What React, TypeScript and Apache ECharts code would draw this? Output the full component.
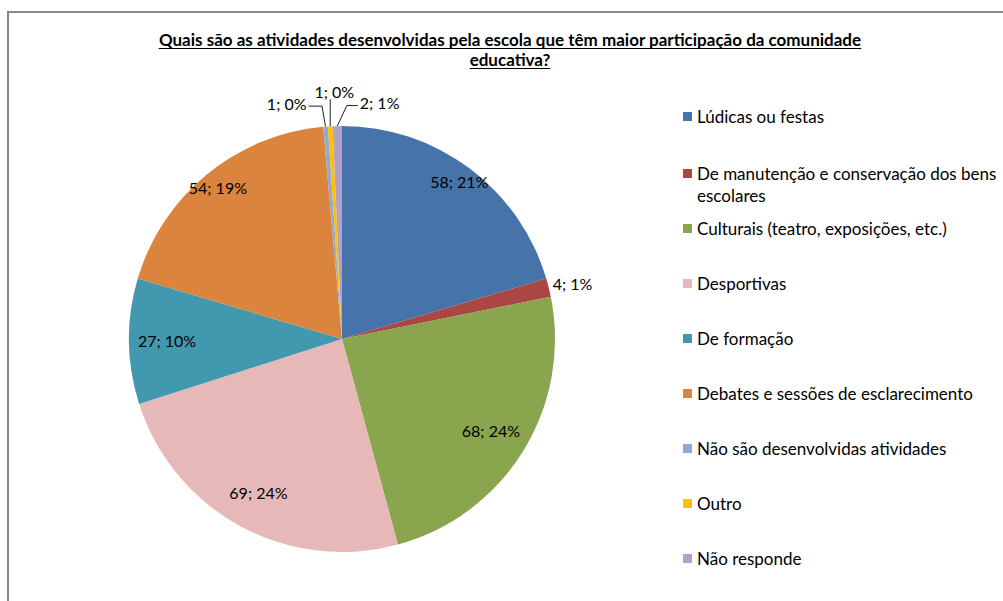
import React, { useEffect, useRef } from 'react';
import * as echarts from 'echarts';

const categories = [
  'Lúdicas ou festas',
  'De manutenção e conservação dos bens escolares',
  'Culturais (teatro, exposições, etc.)',
  'Desportivas',
  'De formação',
  'Debates e sessões de esclarecimento',
  'Não são desenvolvidas atividades',
  'Outro',
  'Não responde',
];
const values = [58, 4, 68, 69, 27, 54, 1, 1, 2];
const percentLabels = ['21%', '1%', '24%', '24%', '10%', '19%', '0%', '0%', '1%'];
const colors = ['#4674AA', '#AA4643', '#89A54E', '#E6B9B8', '#4298AF', '#DB843D', '#93A9CF', '#FFC000', '#B3A2C7'];
const titleLines = [
  'Quais são as atividades desenvolvidas pela escola que têm maior participação da comunidade',
  'educativa?',
];

// which labels go where (indices)
const outsideIdx = [1, 6, 7, 8];
const ringOuterIdx = [0, 5];
const ringInnerIdx = [2, 3, 4];

const FONT = 'Lato';
const CENTER = [342, 339];
const R = 213;
const LABEL_SIZE = 16;
const LEGEND_SIZE = 17;

const labelText = (p: any) => `${values[p.dataIndex]}; ${percentLabels[p.dataIndex]}`;

function smallLabelLayout(p: any) {
  const pts = p.labelLinePoints;
  if (!pts || !pts[0]) return {};
  const [x0, y0] = pts[0];
  const i = p.dataIndex;
  if (i === 1) {
    return {
      x: x0 + 4, y: y0 - 4.5, align: 'left', verticalAlign: 'middle',
      labelLinePoints: [[x0, y0], [x0, y0], [x0, y0]],
    };
  }
  if (i === 6) {
    const ly = y0 - 20.5;
    return {
      x: x0 - 19, y: y0 - 23.5, align: 'right', verticalAlign: 'middle',
      labelLinePoints: [[x0, y0], [x0 - 3.5, ly], [x0 - 17, ly]],
    };
  }
  if (i === 7) {
    return {
      x: x0 + 4, y: y0 - 35, align: 'center', verticalAlign: 'middle',
      labelLinePoints: [[x0, y0], [x0, y0 - 27], [x0, y0 - 27]],
    };
  }
  if (i === 8) {
    const ly = y0 - 20.5;
    return {
      x: x0 + 22.5, y: y0 - 24, align: 'left', verticalAlign: 'middle',
      labelLinePoints: [[x0, y0], [x0 + 9.5, ly], [x0 + 20.5, ly]],
    };
  }
  return {};
}

function overlaySeries(radius: number[], idx: number[]) {
  return {
    type: 'pie',
    center: CENTER,
    radius,
    startAngle: 90,
    clockwise: true,
    silent: true,
    avoidLabelOverlap: false,
    emphasis: { disabled: true },
    data: categories.map((name, i) => ({
      name,
      value: values[i],
      itemStyle: { color: 'rgba(0,0,0,0)' },
      label: { show: idx.includes(i) },
    })),
    label: {
      position: 'inside',
      formatter: labelText,
      fontFamily: FONT,
      fontSize: LABEL_SIZE,
      color: '#000',
    },
    labelLine: { show: false },
  };
}

export default function App() {
  const ref = useRef<HTMLDivElement>(null);
  useEffect(() => {
    document.body.style.margin = '0';
    const chart = echarts.init(ref.current!, null, { renderer: 'svg' });

    const titleFont = `bold 17px ${FONT}`;
    const ctx = document.createElement('canvas').getContext('2d')!;
    ctx.font = titleFont;
    const titleX = 510;
    const titleY = [39, 59];
    const graphics: any[] = [
      {
        type: 'rect',
        z: -10,
        shape: { x: 8, y: 12, width: 1300, height: 900 },
        style: { fill: 'none', stroke: '#888888', lineWidth: 2 },
      },
    ];
    titleLines.forEach((t, k) => {
      const w = ctx.measureText(t).width;
      graphics.push({
        type: 'text',
        x: titleX,
        y: titleY[k],
        style: {
          text: t,
          font: titleFont,
          fill: '#000',
          align: 'center',
          verticalAlign: 'middle',
        },
      });
      graphics.push({
        type: 'line',
        shape: { x1: titleX - w / 2, y1: titleY[k] + 9.5, x2: titleX + w / 2, y2: titleY[k] + 9.5 },
        style: { stroke: '#000', lineWidth: 1 },
      });
    });

    const legendCommon = {
      type: 'plain',
      orient: 'vertical',
      left: 683,
      padding: 0,
      height: 420,
      itemWidth: 9,
      itemHeight: 9,
      icon: 'rect',
      selectedMode: false,
      textStyle: { fontFamily: FONT, fontSize: LEGEND_SIZE, color: '#000', lineHeight: 22 },
    };

    const option: any = {
      animation: false,
      graphic: graphics,
      legend: [
        {
          ...legendCommon,
          top: 105.5,
          itemGap: 13,
          data: [categories[0], categories[1]],
          formatter: (name: string) =>
            name === categories[1] ? '\nDe manutenção e conservação dos bens\nescolares' : name,
        },
        {
          ...legendCommon,
          top: 217.5,
          itemGap: 33,
          data: categories.slice(2),
        },
      ],
      series: [
        {
          type: 'pie',
          center: CENTER,
          radius: R,
          startAngle: 90,
          clockwise: true,
          avoidLabelOverlap: false,
          emphasis: { disabled: true },
          itemStyle: { borderWidth: 0 },
          data: categories.map((name, i) => ({
            name,
            value: values[i],
            itemStyle: { color: colors[i] },
            label: { show: outsideIdx.includes(i) },
            labelLine:
              i === 1
                ? { show: true, length: 2, length2: 0, lineStyle: { opacity: 0 } }
                : { show: true },
          })),
          label: {
            position: 'outside',
            formatter: labelText,
            fontFamily: FONT,
            fontSize: LABEL_SIZE,
            color: '#000',
          },
          labelLine: {
            show: true,
            length: 20,
            length2: 10,
            lineStyle: { color: '#222', width: 1 },
          },
          labelLayout: smallLabelLayout,
        },
        overlaySeries([173, R], ringOuterIdx),
        overlaySeries([131, R], ringInnerIdx),
      ],
    };
    chart.setOption(option);
    return () => chart.dispose();
  }, []);
  return <div ref={ref} style={{ width: 1003, height: 601 }} />;
}
